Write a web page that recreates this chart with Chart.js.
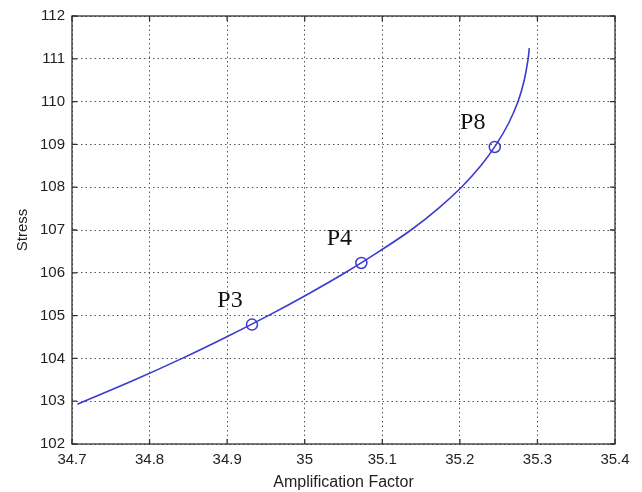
<!DOCTYPE html>
<html>
<head>
<meta charset="utf-8">
<script src="https://cdn.jsdelivr.net/npm/chart.js@4/dist/chart.umd.min.js"></script>
<style>
  html, body { margin: 0; padding: 0; background: #fff; }
  #wrap { width: 642px; height: 492px; position: relative; }
</style>
</head>
<body>
<div id="wrap"><canvas id="c" width="642" height="492"></canvas></div>
<script>
// Curve (Amplification Factor vs Stress)
const curveX = [34.707, 34.781, 34.842, 34.899, 34.953, 35.004, 35.052, 35.096, 35.137, 35.172, 35.202, 35.227, 35.247, 35.263, 35.275, 35.283, 35.288, 35.2895];
const curveY = [102.93, 103.5, 104.0, 104.5, 105.0, 105.5, 106.0, 106.5, 107.0, 107.5, 108.0, 108.5, 109.0, 109.5, 110.0, 110.5, 111.0, 111.25];
// Marked points
const markX = [34.932, 35.073, 35.245];
const markY = [104.79, 106.23, 108.94];
const markLabels = ['P3', 'P4', 'P8'];
// Axes
const xMin = 34.7, xMax = 35.4, xStep = 0.1;
const yMin = 102, yMax = 112, yStep = 1;
const xTitle = 'Amplification Factor';
const yTitle = 'Stress';

const lineColor = '#3b3bcf';
const curveData = curveX.map((x, i) => ({ x: x, y: curveY[i] }));
const markData = markX.map((x, i) => ({ x: x, y: markY[i] }));

const framePlugin = {
  id: 'frame',
  afterDraw(chart) {
    const { ctx, chartArea: a, scales } = chart;
    ctx.save();
    ctx.strokeStyle = '#333';
    ctx.lineWidth = 1.3;
    ctx.strokeRect(a.left, a.top, a.right - a.left, a.bottom - a.top);
    const tl = 5;
    ctx.beginPath();
    scales.x.ticks.forEach(t => {
      const px = scales.x.getPixelForValue(t.value);
      ctx.moveTo(px, a.bottom); ctx.lineTo(px, a.bottom - tl);
      ctx.moveTo(px, a.top); ctx.lineTo(px, a.top + tl);
    });
    scales.y.ticks.forEach(t => {
      const py = scales.y.getPixelForValue(t.value);
      ctx.moveTo(a.left, py); ctx.lineTo(a.left + tl, py);
      ctx.moveTo(a.right, py); ctx.lineTo(a.right - tl, py);
    });
    ctx.stroke();
    ctx.fillStyle = '#111';
    ctx.font = '24px "Liberation Serif", "Times New Roman", serif';
    ctx.textAlign = 'center';
    ctx.textBaseline = 'middle';
    markLabels.forEach((lab, i) => {
      const px = scales.x.getPixelForValue(markX[i]);
      const py = scales.y.getPixelForValue(markY[i]);
      ctx.fillText(lab, px - 22, py - 24);
    });
    ctx.restore();
  }
};

new Chart(document.getElementById('c'), {
  type: 'scatter',
  data: {
    datasets: [
      {
        data: curveData,
        showLine: true,
        borderColor: lineColor,
        borderWidth: 1.6,
        pointRadius: 0,
        tension: 0.4,
        fill: false
      },
      {
        data: markData,
        showLine: false,
        borderColor: lineColor,
        backgroundColor: 'rgba(0,0,0,0)',
        borderWidth: 1.5,
        pointRadius: 5.5,
        pointStyle: 'circle'
      }
    ]
  },
  options: {
    responsive: false,
    animation: false,
    devicePixelRatio: 1,
    layout: { padding: { left: 14, right: 27, top: 16, bottom: 0 } },
    plugins: { legend: { display: false }, tooltip: { enabled: false } },
    scales: {
      x: {
        type: 'linear', min: xMin, max: xMax,
        afterFit(s) { s.height = 48; },
        afterBuildTicks(s) {
          const t = [];
          for (let v = xMin; v <= xMax + 1e-9; v += xStep) t.push({ value: Math.round(v * 10) / 10 });
          s.ticks = t;
        },
        ticks: {
          color: '#222', padding: 7, maxRotation: 0, autoSkip: false,
          font: { family: '"Liberation Sans", Arial, sans-serif', size: 15 },
          callback: v => String(Math.round(v * 10) / 10)
        },
        grid: { color: '#555', lineWidth: 1, drawTicks: false },
        border: { display: false, dash: [1.5, 3] },
        title: {
          display: true, text: xTitle, color: '#222', padding: { top: 1, bottom: 0 },
          font: { family: '"Liberation Sans", Arial, sans-serif', size: 16 }
        }
      },
      y: {
        type: 'linear', min: yMin, max: yMax,
        afterFit(s) { s.width = 58; },
        ticks: {
          stepSize: yStep, color: '#222', padding: 7,
          font: { family: '"Liberation Sans", Arial, sans-serif', size: 15 }
        },
        grid: { color: '#555', lineWidth: 1, drawTicks: false },
        border: { display: false, dash: [1.5, 3] },
        title: {
          display: true, text: yTitle, color: '#222', padding: { top: 0, bottom: 4 },
          font: { family: '"Liberation Sans", Arial, sans-serif', size: 15 }
        }
      }
    }
  },
  plugins: [framePlugin]
});
</script>
</body>
</html>
